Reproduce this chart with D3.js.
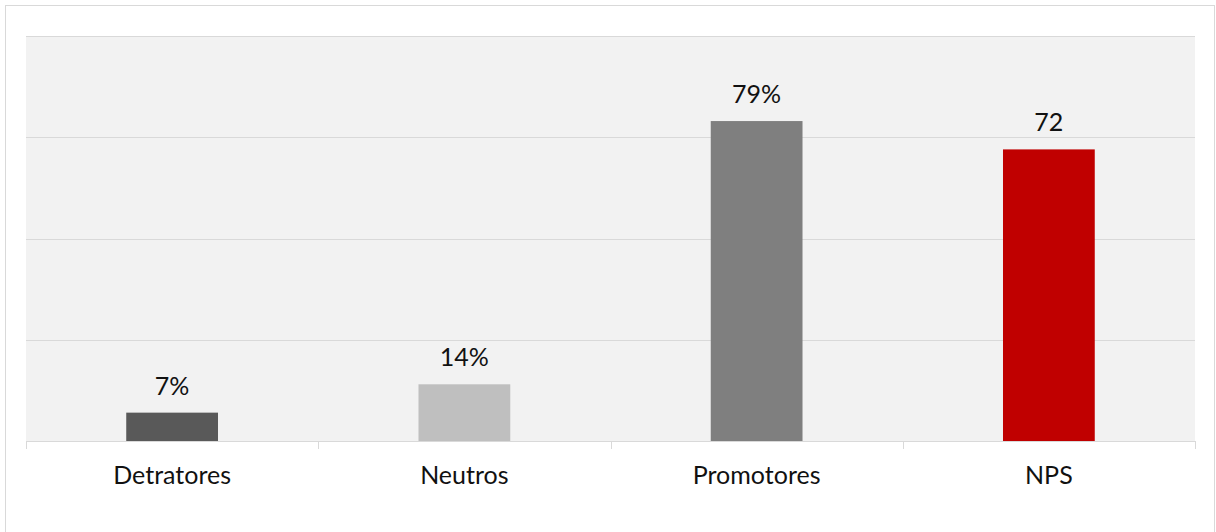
<!DOCTYPE html>
<html>
<head>
<meta charset="utf-8">
<script src="https://cdn.jsdelivr.net/npm/d3@7"></script>
<style>
  html, body { margin: 0; padding: 0; background: #ffffff; }
  svg { display: block; }
  text { font-family: Lato, "Open Sans", sans-serif; fill: #111111; }
</style>
</head>
<body>
<svg id="chart" width="1216" height="532"></svg>
<script>
const categories = ["Detratores", "Neutros", "Promotores", "NPS"];
const values = [7, 14, 79, 72];
const valueLabels = ["7%", "14%", "79%", "72"];
const barColors = ["#595959", "#bfbfbf", "#7f7f7f", "#c00000"];
const yTicks = [0, 25, 50, 75, 100];

const W = 1216, H = 532;
const margin = { left: 26, right: 21, top: 36, bottom: 91 };
const svg = d3.select("#chart");

// outer chart border (top, left, right; bottom falls outside)
svg.append("rect")
  .attr("x", 5.5).attr("y", 5.5)
  .attr("width", 1209).attr("height", 540)
  .attr("fill", "#ffffff")
  .attr("stroke", "#d9d9d9").attr("stroke-width", 1);

const x0 = margin.left, x1 = W - margin.right;
const y0 = H - margin.bottom, y1 = margin.top;

const x = d3.scaleBand().domain(categories).range([x0, x1])
  .paddingInner(0.686).paddingOuter(0.343);
const y = d3.scaleLinear().domain([0, 100]).range([y0, y1]);

// plot area background
svg.append("rect")
  .attr("x", x0).attr("y", y1)
  .attr("width", x1 - x0).attr("height", y0 - y1)
  .attr("fill", "#f2f2f2");

// gridlines
svg.append("g").selectAll("line").data(yTicks.slice(1)).join("line")
  .attr("x1", x0).attr("x2", x1)
  .attr("y1", d => Math.round(y(d)) + 0.5).attr("y2", d => Math.round(y(d)) + 0.5)
  .attr("stroke", "#d9d9d9").attr("stroke-width", 1);

// bars
svg.append("g").selectAll("rect").data(categories).join("rect")
  .attr("x", d => x(d))
  .attr("width", x.bandwidth())
  .attr("y", (d, i) => y(values[i]))
  .attr("height", (d, i) => y(0) - y(values[i]))
  .attr("fill", (d, i) => barColors[i]);

// x axis line and ticks at category boundaries
const bandStep = (x1 - x0) / categories.length;
svg.append("line")
  .attr("x1", x0).attr("x2", x1)
  .attr("y1", y0 + 0.5).attr("y2", y0 + 0.5)
  .attr("stroke", "#d9d9d9").attr("stroke-width", 1);
svg.append("g").selectAll("line").data(d3.range(categories.length + 1)).join("line")
  .attr("x1", i => Math.round(x0 + i * bandStep) + 0.5)
  .attr("x2", i => Math.round(x0 + i * bandStep) + 0.5)
  .attr("y1", y0).attr("y2", y0 + 8)
  .attr("stroke", "#d9d9d9").attr("stroke-width", 1);

// category labels
svg.append("g").selectAll("text").data(categories).join("text")
  .attr("x", d => x(d) + x.bandwidth() / 2)
  .attr("y", y0 + 43)
  .attr("text-anchor", "middle")
  .attr("font-size", "25px")
  .text(d => d);

// value labels
svg.append("g").selectAll("text").data(categories).join("text")
  .attr("x", d => x(d) + x.bandwidth() / 2)
  .attr("y", (d, i) => y(values[i]) - 18)
  .attr("text-anchor", "middle")
  .attr("font-size", "25px")
  .text((d, i) => valueLabels[i]);
</script>
</body>
</html>
